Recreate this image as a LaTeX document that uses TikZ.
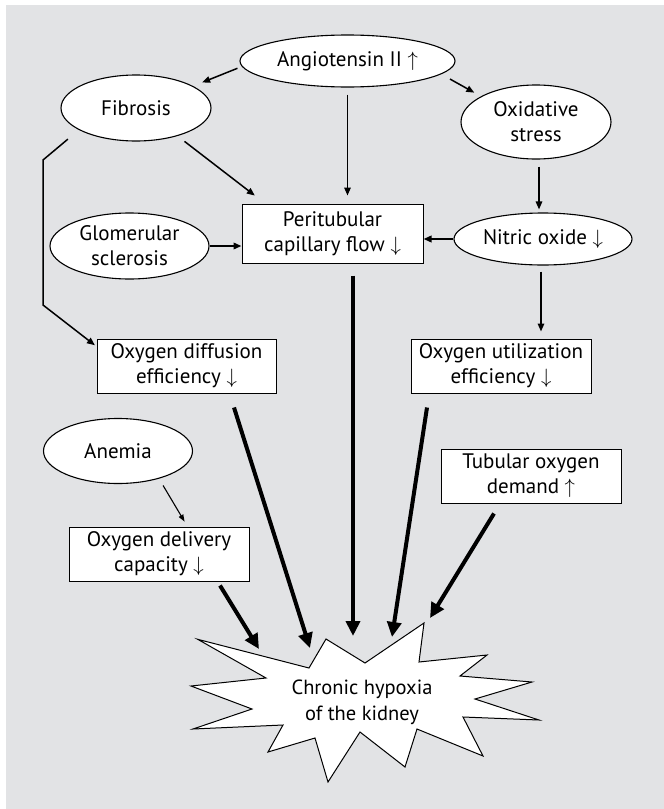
\documentclass[tikz,border=0pt]{standalone}
\usepackage{fontspec}
\setmainfont{PT Sans}
\usetikzlibrary{shapes.geometric,arrows.meta,calc}
\definecolor{bggrey}{RGB}{226,227,229}
\begin{document}
\begin{tikzpicture}[x=1pt,y=-1pt,
    ell/.style={ellipse,draw,fill=white,line width=1.1pt,inner sep=0pt,align=center,font=\fontsize{21}{25}\selectfont},
    box/.style={rectangle,draw,fill=white,line width=1pt,inner sep=0pt,align=center,font=\fontsize{21}{25}\selectfont},
    arr/.style={-{Triangle[length=8pt,width=6.5pt]},line width=1.5pt},
    big/.style={-{Triangle[length=15pt,width=14pt]},line width=4pt}]
        \useasboundingbox (0,0) rectangle (664,809);
        \fill[bggrey] (6,5) rectangle (664,809);
        \node[ell,minimum width=215pt,minimum height=52pt] at (347.5,61) (angio) {Angiotensin II $\uparrow$};
        \node[ell,minimum width=150pt,minimum height=66pt] at (136,108) (fib) {Fibrosis};
        \node[ell,minimum width=150pt,minimum height=74pt] at (536,122) (oxst) {Oxidative\\stress};
        \node[ell,minimum width=159pt,minimum height=66pt] at (129.5,246) (glom) {Glomerular\\sclerosis};
        \node[box,minimum width=181pt,minimum height=59pt] at (332.5,233.5) (ptc) {Peritubular\\capillary flow $\downarrow$};
        \node[ell,minimum width=178pt,minimum height=52pt] at (543,239) (nitric) {Nitric oxide $\downarrow$};
        \node[box,minimum width=179pt,minimum height=54pt] at (186.5,366) (diff) {Oxygen diffusion\\efficiency $\downarrow$};
        \node[box,minimum width=180pt,minimum height=54pt] at (501,366) (util) {Oxygen utilization\\efficiency $\downarrow$};
        \node[ell,minimum width=149pt,minimum height=65pt] at (118,451) (anem) {Anemia};
        \node[box,minimum width=180pt,minimum height=54pt] at (531,476) (tub) {Tubular oxygen\\demand $\uparrow$};
        \node[box,minimum width=180pt,minimum height=54pt] at (159,554) (deliv) {Oxygen delivery\\capacity $\downarrow$};
        % the burst round the end point
        \draw[fill=white,line width=1pt] (197.7,639.3) -- (309,668) -- (326,639) -- (365,663)
          -- (424,623) -- (419,662) -- (487,655) -- (460,676) -- (532,682) -- (475,699)
          -- (539,720) -- (463,717) -- (483,756) -- (417,729) -- (405,767) -- (360,732)
          -- (328,782) -- (315,738) -- (268,752) -- (283,725) -- (193,729) -- (252,709)
          -- (191,686) -- (266,678) -- cycle;
        \node[align=center,font=\fontsize{20.5}{26}\selectfont] at (362,702) (hyp) {Chronic hypoxia\\of the kidney};
        \coordinate (tipA) at (259,649);
        \coordinate (tipB) at (310,648);
        \coordinate (tipC) at (353,636);
        \coordinate (tipD) at (392,637);
        \coordinate (tipE) at (430,618);
        % thin arrows
        \draw[arr,shorten <=4.7pt,shorten >=9.7pt] (angio.183.5) -- (fib.21);
        \draw[arr,shorten <=10pt,shorten >=7.5pt] (angio.352) -- (oxst.155);
        \draw[arr,shorten <=7pt,shorten >=8pt] (angio) -- (angio |- ptc.north);
        \draw[arr,shorten <=8.8pt,shorten >=13pt] (fib.326) -- (ptc.156.3);
        \draw[arr,shorten <=7pt,shorten >=3pt] ($(oxst.south)+(3,0)$) -- ($(nitric.north)+(-4,0)$);
        \draw[arr,line width=1.9pt] (nitric) -- (nitric -| ptc.east);
        \draw[arr,line width=1.9pt] (glom) -- (glom -| ptc.west);
        \draw[arr,shorten <=6pt,shorten >=7pt] ($(nitric.south)+(-2,0)$) -- ($(nitric.south |- util.north)+(-2,0)$);
        \draw[arr,shorten <=14.3pt,shorten >=2pt] (fib.201.5) -- (43,160) -- (43,305) -- ($(diff.north west)+(0,8)$);
        \draw[-{Triangle[length=7pt,width=5pt]},line width=1.1pt,shorten <=7.9pt,shorten >=5.7pt] (anem.326.6) -- (deliv.44.2);
        % thick arrows into the burst
        \draw[big] ($(deliv.south)+(61,4)$) -- (tipA);
        \draw[big] ($(diff.south)+(47.5,14)$) -- (tipB);
        \draw[big] ($(ptc.south)+(20.5,12)$) -- (tipC);
        \draw[big] ($(util.south)+(-74,14)$) -- (tipD);
        \draw[big] ($(tub.south)+(-37,10)$) -- (tipE);
      \end{tikzpicture}
\end{document}
